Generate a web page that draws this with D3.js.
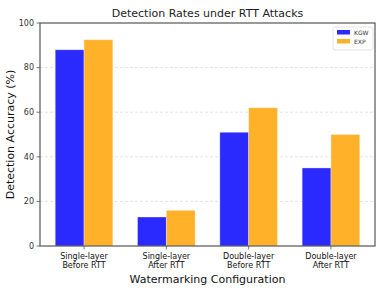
<!DOCTYPE html>
<html><head><meta charset="utf-8">
<script src="https://cdn.jsdelivr.net/npm/d3@7"></script>
<style>body{margin:0;background:#fff}svg{display:block}text{font-family:"DejaVu Sans",sans-serif}</style>
</head><body>
<script>
const categories = ["Single-layer\nBefore RTT","Single-layer\nAfter RTT","Double-layer\nBefore RTT","Double-layer\nAfter RTT"];
const seriesNames = ["KGW","EXP"];
const kgw = [88, 13, 51, 35];
const exp = [92.5, 16, 62, 50];
const yTicks = [0,20,40,60,80,100];
const colors = ["#2a2aff","#ffb12a"];

const W=381,H=290;
const svg=d3.select("body").append("svg").attr("width",W).attr("height",H);
const x0=40,x1=375,y0=246,y1=23;
const xs=d3.scaleLinear().domain([-0.535,3.535]).range([x0,x1]);
const ys=d3.scaleLinear().domain([0,100]).range([y0,y1]);
const bw=0.35;

// grid
svg.append("g").selectAll("line").data(yTicks.filter(d=>d>0&&d<100)).join("line")
 .attr("x1",x0).attr("x2",x1).attr("y1",d=>ys(d)).attr("y2",d=>ys(d))
 .attr("stroke","#dcdcdc").attr("stroke-width",0.8).attr("stroke-dasharray","3,2");

const series=[kgw,exp];
series.forEach((vals,si)=>{
  svg.append("g").selectAll("rect").data(vals).join("rect")
   .attr("x",(d,i)=>xs(i+(si===0?-bw:0)))
   .attr("width",xs(bw)-xs(0))
   .attr("y",d=>ys(d)).attr("height",d=>y0-ys(d))
   .attr("fill",colors[si]).attr("stroke","#ffffff").attr("stroke-opacity",0.4).attr("stroke-width",0.8);
});

// spines
svg.append("rect").attr("x",x0).attr("y",y1).attr("width",x1-x0).attr("height",y0-y1)
 .attr("fill","none").attr("stroke","#555").attr("stroke-width",1.2);

// y axis ticks
const yg=svg.append("g");
yTicks.forEach(t=>{
  yg.append("line").attr("x1",x0-3.5).attr("x2",x0).attr("y1",ys(t)).attr("y2",ys(t)).attr("stroke","#555").attr("stroke-width",0.8);
  yg.append("text").attr("x",x0-6).attr("y",ys(t)).attr("dy","0.35em").attr("text-anchor","end")
   .attr("font-size",8).attr("fill","#333").text(t);
});
// x ticks
categories.forEach((c,i)=>{
  svg.append("line").attr("x1",xs(i)).attr("x2",xs(i)).attr("y1",y0).attr("y2",y0+3.5).attr("stroke","#555").attr("stroke-width",0.8);
  const lines=c.split("\n");
  lines.forEach((l,j)=>{
    svg.append("text").attr("x",xs(i)).attr("y",y0+13+j*9).attr("text-anchor","middle")
     .attr("font-size",8).attr("fill","#111").text(l);
  });
});

svg.append("text").attr("x",(x0+x1)/2).attr("y",17).attr("text-anchor","middle").attr("font-size",11).attr("fill","#222").text("Detection Rates under RTT Attacks");
svg.append("text").attr("x",(x0+x1)/2).attr("y",283).attr("text-anchor","middle").attr("font-size",11).attr("fill","#111").text("Watermarking Configuration");
svg.append("text").attr("transform",`translate(14,${(y0+y1)/2}) rotate(-90)`).attr("text-anchor","middle").attr("font-size",11).attr("fill","#111").text("Detection Accuracy (%)");

// legend
const lg=svg.append("g");
lg.append("rect").attr("x",333).attr("y",27).attr("width",40).attr("height",23).attr("rx",2)
 .attr("fill","#fff").attr("stroke","#ddd").attr("stroke-width",0.8);
seriesNames.forEach((n,i)=>{
  lg.append("rect").attr("x",337).attr("y",30+i*9).attr("width",13).attr("height",4.5).attr("fill",colors[i]);
  lg.append("text").attr("x",354).attr("y",32.5+i*9).attr("dy","0.35em").attr("font-size",6).attr("fill","#333").text(n);
});
</script>
</body></html>
